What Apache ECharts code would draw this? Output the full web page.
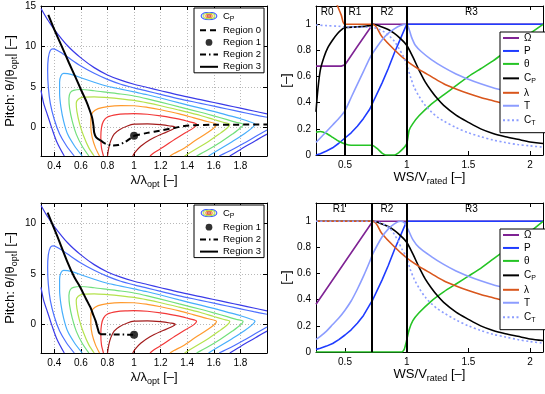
<!DOCTYPE html>
<html><head><meta charset="utf-8">
<script src="https://cdn.jsdelivr.net/npm/echarts/dist/echarts.min.js"></script>
<style>html,body{margin:0;padding:0;background:#fff}#c{width:545px;height:394px}</style>
</head><body><div id="c"></div><script>
// ---------- tick labels ----------
const lamTicks = [0.4, 0.6, 0.8, 1, 1.2, 1.4, 1.6, 1.8];
const pitchTicksTop = [0, 5, 10, 15];
const pitchTicksBottom = [0, 5, 10];
const wsTicks = [0.5, 1, 1.5, 2];
const normTicks = [0, 0.2, 0.4, 0.6, 0.8, 1];

// ---------- Cp contour lines (lambda/lambda_opt, pitch in top-panel units) ----------
const cpBlue1Upper = [[0.30,14.7],[0.35,13.3],[0.4,12.1],[0.5,10.1],[0.6,8.6],[0.7,7.4],[0.8,6.5],[0.9,5.85],[1.0,5.35],[1.1,4.95],[1.2,4.55],[1.34,4.0],[1.5,3.45],[1.6,3.1],[1.7,2.75],[1.8,2.4],[1.9,2.05],[2.0,1.7]];
const cpBlue1Left = [[0.30,4.6],[0.32,3.0],[0.35,1.5],[0.38,0],[0.42,-1.8],[0.475,-3.5]];
const cpBlue1Lower = [[2.0,-0.8],[1.93,-1.45],[1.84,-2.3],[1.77,-3.0],[1.72,-3.5]];
const cpBlue2 = [[0.55,-3.5],[0.49,-2.2],[0.44,-0.8],[0.40,1],[0.37,3],[0.355,5],[0.35,7],[0.355,8.6],[0.37,9.5],[0.39,9.7],[0.42,9.55],[0.46,9.15],[0.5,8.7],[0.6,7.6],[0.7,6.7],[0.8,5.95],[0.9,5.35],[1.0,4.9],[1.1,4.5],[1.2,4.1],[1.34,3.55],[1.5,3.0],[1.6,2.65],[1.7,2.3],[1.8,1.95],[1.9,1.6],[2.0,1.28]];
const cpBlue2Lower = [[2.0,-0.3],[1.93,-0.95],[1.83,-1.9],[1.73,-2.8],[1.64,-3.5]];
const cpLightBlue = [[0.61,-3.5],[0.55,-2.2],[0.5,-0.8],[0.47,0.8],[0.45,2.5],[0.44,4.2],[0.44,5.6],[0.45,6.4],[0.47,6.7],[0.5,6.65],[0.55,6.45],[0.6,6.15],[0.7,5.6],[0.8,5.1],[0.9,4.75],[1.0,4.4],[1.1,4.05],[1.2,3.65],[1.34,3.05],[1.5,2.4],[1.6,2.0],[1.7,1.55],[1.8,1.1],[1.87,0.72],[1.91,0.42],[1.89,0.0],[1.83,-0.75],[1.74,-1.7],[1.64,-2.7],[1.56,-3.5]];
const cpGreen = [[0.66,-3.5],[0.61,-2.3],[0.565,-0.8],[0.535,0.8],[0.515,2.4],[0.51,3.6],[0.52,4.3],[0.545,4.6],[0.6,4.7],[0.7,4.55],[0.8,4.35],[0.9,4.15],[1.0,3.9],[1.1,3.55],[1.2,3.15],[1.34,2.55],[1.5,1.9],[1.6,1.45],[1.7,0.98],[1.77,0.64],[1.82,0.4],[1.80,-0.05],[1.74,-0.8],[1.65,-1.8],[1.55,-2.8],[1.47,-3.5]];
const cpYellowGreen = [[0.70,-3.5],[0.66,-2.5],[0.62,-1],[0.59,0.5],[0.57,2],[0.565,3.0],[0.58,3.5],[0.62,3.75],[0.7,3.8],[0.8,3.7],[0.9,3.55],[1.0,3.35],[1.1,3.05],[1.2,2.7],[1.34,2.15],[1.5,1.5],[1.6,1.0],[1.67,0.66],[1.72,0.4],[1.70,-0.05],[1.64,-0.8],[1.56,-1.7],[1.46,-2.7],[1.38,-3.5]];
const cpOrange = [[0.74,-3.5],[0.71,-2.5],[0.685,-1.2],[0.675,0],[0.675,1.2],[0.69,1.9],[0.73,2.35],[0.8,2.6],[0.9,2.72],[1.0,2.7],[1.1,2.5],[1.2,2.2],[1.34,1.7],[1.45,1.2],[1.55,0.75],[1.62,0.4],[1.6,-0.05],[1.54,-0.75],[1.46,-1.6],[1.37,-2.6],[1.3,-3.2],[1.27,-3.5]];
const cpRed = [[0.77,-3.5],[0.755,-2.5],[0.75,-1.2],[0.755,0],[0.77,0.8],[0.8,1.3],[0.87,1.6],[0.95,1.7],[1.0,1.72],[1.1,1.65],[1.2,1.45],[1.34,1.05],[1.42,0.7],[1.47,0.42],[1.45,0.0],[1.39,-0.6],[1.31,-1.4],[1.22,-2.4],[1.15,-3.1],[1.12,-3.5]];
const cpMaroon = [[0.80,-3.5],[0.81,-2.5],[0.825,-1.6],[0.85,-0.8],[0.89,-0.25],[0.95,0.2],[1.0,0.42],[1.1,0.47],[1.2,0.36],[1.27,0.2],[1.31,0.05],[1.28,-0.3],[1.2,-0.85],[1.12,-1.5],[1.05,-2.3],[1.01,-3.0],[0.99,-3.5]];

// ---------- operating trajectories ----------
const topRegion0 = [[1.0,-1.0],[1.1,-0.65],[1.2,-0.35],[1.3,-0.05],[1.36,0.15],[1.45,0.3],[1.6,0.35],[2.0,0.38]];
const topRegion1 = [[1.0,-1.0]];
const topRegion2 = [[0.75,-1.6],[0.78,-1.95],[0.84,-2.2],[0.88,-2.15],[0.93,-1.8],[0.97,-1.35],[1.0,-1.0]];
const topRegion3 = [[0.355,13.9],[0.40,12.1],[0.457,10.0],[0.51,8.0],[0.56,6.2],[0.60,4.7],[0.638,3.35],[0.665,2.2],[0.685,1.2],[0.695,0.2],[0.70,-0.6],[0.715,-1.2],[0.75,-1.6]];
const botRegion1 = [[1.0,-1.0]];
const botRegion2 = [[0.745,-0.95],[0.76,-1.0],[1.0,-1.0]];
const botRegion3 = [[0.35,11.05],[0.42,8.8],[0.495,6.3],[0.55,4.7],[0.596,3.67],[0.64,2.5],[0.672,1.7],[0.695,0.9],[0.71,0.39],[0.725,-0.3],[0.735,-0.76],[0.745,-0.95]];

// ---------- normalised quantities vs WS/Vrated (top) ----------
const omegaTop = [[0.265,0.68],[0.47,0.68],[0.5,0.69],[0.6,0.83],[0.725,1.0],[2.105,1.0]];
const powerTop = [[0.265,0.0],[0.3,0.01],[0.35,0.03],[0.4,0.055],[0.45,0.09],[0.5,0.13],[0.55,0.17],[0.6,0.22],[0.65,0.28],[0.7,0.35],[0.725,0.40],[0.8,0.55],[0.85,0.66],[0.9,0.78],[0.95,0.89],[1.0,1.0],[2.105,1.0]];
const pitchTop = [[0.265,0.175],[0.3,0.18],[0.35,0.165],[0.4,0.135],[0.45,0.105],[0.5,0.085],[0.55,0.075],[0.72,0.075],[0.76,0.05],[0.8,0.015],[0.83,0.0],[0.9,0.0],[0.95,0.03],[1.0,0.085],[1.02,0.19],[1.05,0.24],[1.1,0.3],[1.2,0.39],[1.3,0.46],[1.4,0.53],[1.5,0.6],[1.6,0.66],[1.7,0.72],[1.8,0.79],[1.9,0.86],[2.0,0.93],[2.105,1.0]];
const cpTop = [[0.265,0.33],[0.28,0.5],[0.3,0.65],[0.33,0.75],[0.36,0.82],[0.4,0.88],[0.44,0.93],[0.48,0.965],[0.5,0.975],[0.6,0.98],[0.7,0.99],[0.725,1.0],[0.8,0.98],[0.85,0.96],[0.9,0.93],[0.95,0.89],[1.0,0.84],[1.05,0.75],[1.1,0.65],[1.15,0.56],[1.2,0.49],[1.25,0.43],[1.3,0.38],[1.4,0.305],[1.5,0.25],[1.6,0.2],[1.7,0.165],[1.8,0.14],[1.9,0.12],[2.0,0.1],[2.105,0.088]];
const lambdaTop = [[0.4,1.25],[0.44,1.14],[0.47,1.07],[0.5,1.0],[0.725,1.0],[0.8,0.905],[0.9,0.805],[1.0,0.72],[1.1,0.655],[1.2,0.6],[1.3,0.545],[1.4,0.505],[1.5,0.47],[1.6,0.44],[1.7,0.415],[1.8,0.39],[1.9,0.37],[2.0,0.355],[2.105,0.34]];
const thrustTop = [[0.265,0.097],[0.3,0.13],[0.35,0.18],[0.4,0.23],[0.45,0.28],[0.5,0.34],[0.55,0.44],[0.6,0.54],[0.65,0.64],[0.7,0.74],[0.725,0.78],[0.8,0.88],[0.85,0.93],[0.9,0.965],[0.95,0.99],[1.0,1.0],[1.02,0.96],[1.04,0.9],[1.07,0.84],[1.12,0.79],[1.2,0.73],[1.3,0.67],[1.4,0.62],[1.5,0.58],[1.6,0.545],[1.7,0.515],[1.8,0.49],[1.9,0.465],[2.0,0.44],[2.105,0.42]];
const ctTop = [[0.265,0.995],[0.35,0.99],[0.45,0.985],[0.5,0.98],[0.6,0.978],[0.725,0.975],[0.78,0.96],[0.82,0.94],[0.86,0.91],[0.9,0.87],[0.94,0.81],[0.97,0.76],[1.0,0.69],[1.03,0.6],[1.06,0.52],[1.1,0.45],[1.15,0.38],[1.2,0.33],[1.25,0.29],[1.3,0.26],[1.4,0.21],[1.5,0.17],[1.6,0.14],[1.7,0.115],[1.8,0.095],[1.9,0.08],[2.0,0.07],[2.105,0.06]];

// ---------- normalised quantities vs WS/Vrated (bottom) ----------
const omegaBot = [[0.265,0.365],[0.725,1.0],[2.105,1.0]];
const powerBot = [[0.265,0.02],[0.3,0.028],[0.35,0.045],[0.4,0.065],[0.45,0.095],[0.5,0.13],[0.55,0.17],[0.6,0.22],[0.65,0.28],[0.7,0.36],[0.725,0.40],[0.8,0.55],[0.85,0.66],[0.9,0.78],[0.95,0.89],[1.0,1.0],[2.105,1.0]];
const pitchBot = [[0.265,0],[0.96,0],[0.98,0.02],[1.0,0.09],[1.02,0.17],[1.05,0.24],[1.1,0.3],[1.2,0.39],[1.3,0.46],[1.4,0.52],[1.5,0.58],[1.6,0.64],[1.7,0.71],[1.8,0.78],[1.9,0.85],[2.0,0.92],[2.105,1.0]];
const cpBot = [[0.265,1.0],[0.725,1.0],[0.8,0.98],[0.85,0.96],[0.9,0.93],[0.95,0.89],[1.0,0.84],[1.05,0.75],[1.1,0.65],[1.15,0.56],[1.2,0.49],[1.25,0.43],[1.3,0.38],[1.4,0.305],[1.5,0.25],[1.6,0.2],[1.7,0.165],[1.8,0.14],[1.9,0.12],[2.0,0.1],[2.105,0.088]];
const lambdaBot = [[0.265,1.0],[0.725,1.0],[0.8,0.905],[0.9,0.805],[1.0,0.72],[1.1,0.655],[1.2,0.6],[1.3,0.545],[1.4,0.505],[1.5,0.47],[1.6,0.44],[1.7,0.415],[1.8,0.39],[1.9,0.37],[2.0,0.355],[2.105,0.34]];
const thrustBot = [[0.265,0.097],[0.3,0.12],[0.35,0.16],[0.4,0.21],[0.45,0.26],[0.5,0.32],[0.55,0.39],[0.6,0.48],[0.65,0.58],[0.7,0.69],[0.725,0.75],[0.8,0.88],[0.85,0.94],[0.9,0.98],[0.95,1.0],[0.98,0.99],[1.0,0.96],[1.02,0.92],[1.05,0.86],[1.1,0.8],[1.2,0.73],[1.3,0.67],[1.4,0.62],[1.5,0.58],[1.6,0.545],[1.7,0.515],[1.8,0.49],[1.9,0.465],[2.0,0.44],[2.105,0.42]];
const ctBot = [[0.265,1.0],[0.725,1.0],[0.78,0.99],[0.83,0.97],[0.87,0.94],[0.9,0.9],[0.93,0.85],[0.96,0.79],[1.0,0.72],[1.03,0.63],[1.06,0.56],[1.1,0.49],[1.15,0.42],[1.2,0.37],[1.25,0.33],[1.3,0.3],[1.4,0.245],[1.5,0.2],[1.6,0.165],[1.7,0.135],[1.8,0.115],[1.9,0.095],[2.0,0.08],[2.105,0.067]];

// ---------- region boundaries and labels ----------
const boundsTop = [0.5, 0.725, 1.0];
const boundsBot = [0.725, 1.0];
const regionNamesTop = ['R0', 'R1', 'R2', 'R3'];
const regionXTop = [0.355, 0.58, 0.84, 1.525];
const regionNamesBot = ['R1', 'R2', 'R3'];
const regionXBot = [0.452, 0.84, 1.525];
const regionLabelY = 1.09;

// =============== build chart ===============
const FONT = '"Liberation Sans", Arial, Helvetica, sans-serif';
const chart = echarts.init(document.getElementById('c'), null, {renderer: 'canvas', width: 545, height: 394});

const grids = [
  {left: 41, top: 6, width: 226, height: 150},
  {left: 316, top: 6, width: 227, height: 149},
  {left: 41, top: 203, width: 226, height: 150},
  {left: 316, top: 203, width: 227, height: 149}
];

function axis(gridIndex, position, min, max, ticks, labels, grid, extra) {
  const a = {
    type: 'value', gridIndex, position, min, max,
    axisLine: {show: true, onZero: false, lineStyle: {color: '#000', width: 1}},
    axisTick: {show: true, inside: true, length: 4, customValues: ticks, lineStyle: {color: '#000', width: 1}},
    axisLabel: {show: labels, customValues: ticks, color: '#000', fontSize: 10, fontFamily: FONT, margin: 5},
    splitLine: grid ? {show: true, lineStyle: {color: '#b8b8b8', type: [1, 2], width: 1}} : {show: false}
  };
  return Object.assign(a, extra || {});
}
const nameRich = {
  a: {fontSize: 13, fontFamily: FONT, color: '#000'},
  s: {fontSize: 9, fontFamily: FONT, color: '#000', padding: [9, 0, 0, 0]}
};
const lamName = {name: '{a|λ/λ}{s|opt}{a| [–]}', nameLocation: 'middle', nameGap: 15, nameTextStyle: {rich: nameRich}};
const pitchName = {name: '{a|Pitch: θ/|θ}{s|opt}{a|| [–]}', nameLocation: 'middle', nameGap: 22, nameRotate: 90, nameTextStyle: {rich: nameRich}};
const wsName = {name: '{a|WS/V}{s|rated}{a| [–]}', nameLocation: 'middle', nameGap: 13, nameTextStyle: {rich: nameRich}};
const normName = {name: '{a|[–]}', nameLocation: 'middle', nameGap: 22, nameRotate: 90, nameTextStyle: {rich: nameRich}};

const xAxes = [
  axis(0, 'bottom', 0.3, 2.0, lamTicks, true, true, lamName),
  axis(0, 'top', 0.3, 2.0, lamTicks, false, false),
  axis(1, 'bottom', 0.265, 2.105, wsTicks, true, false, wsName),
  axis(1, 'top', 0.265, 2.105, wsTicks, false, false),
  axis(2, 'bottom', 0.3, 2.0, lamTicks, true, true, lamName),
  axis(2, 'top', 0.3, 2.0, lamTicks, false, false),
  axis(3, 'bottom', 0.265, 2.105, wsTicks, true, false, wsName),
  axis(3, 'top', 0.265, 2.105, wsTicks, false, false)
];
const yAxes = [
  axis(0, 'left', -3.5, 15, pitchTicksTop, true, true, pitchName),
  axis(0, 'right', -3.5, 15, pitchTicksTop, false, false),
  axis(1, 'left', 0, 1.14, normTicks, true, false, normName),
  axis(1, 'right', 0, 1.14, normTicks, false, false),
  axis(2, 'left', -2.8, 12, pitchTicksBottom, true, true, pitchName),
  axis(2, 'right', -2.8, 12, pitchTicksBottom, false, false),
  axis(3, 'left', 0, 1.14, normTicks, true, false, normName),
  axis(3, 'right', 0, 1.14, normTicks, false, false),
  // hidden axis carrying the Cp contours of the lower-left panel (same pitch in top-panel units)
  {type: 'value', gridIndex: 2, min: -3.5, max: 15, show: false}
];

const series = [];
function line(xi, yi, data, color, width, type, name, smooth, z) {
  const s = {type: 'line', xAxisIndex: xi, yAxisIndex: yi, data, symbol: 'none', showSymbol: false,
    smooth: smooth || 0, lineStyle: {color, width, type: type || 'solid'},
    // transparent item style so the legend draws a plain line (no marker)
    itemStyle: {color, opacity: name === 'Cp' ? 1 : 0},
    z: z || 2, silent: true, animation: false, clip: true};
  if (name) s.name = name;
  series.push(s);
}

const contourColors = {blue1: '#3b3be8', blue2: '#4d70ff', lightBlue: '#46aefc', green: '#72e07c',
  yellowGreen: '#b4e24c', orange: '#ff9a2e', red: '#f23838', maroon: '#a31c1c'};
const contours = [[cpBlue1Upper, 'blue1'], [cpBlue1Left, 'blue1'], [cpBlue1Lower, 'blue1'], [cpBlue2, 'blue2'],
  [cpBlue2Lower, 'blue2'], [cpLightBlue, 'lightBlue'], [cpGreen, 'green'], [cpYellowGreen, 'yellowGreen'],
  [cpOrange, 'orange'], [cpRed, 'red'], [cpMaroon, 'maroon']];

// top-left panel
contours.forEach(([d, c]) => line(0, 0, d, contourColors[c], 1.2, 'solid', c === 'maroon' ? 'Cp' : null, 0.3, 2));
line(0, 0, topRegion0, '#000', 2, [6, 4], 'Region 0', 0.3, 5);
line(0, 0, topRegion2, '#000', 2, [6, 3, 1.5, 3], 'Region 2', 0.3, 5);
line(0, 0, topRegion3, '#000', 2, 'solid', 'Region 3', 0.2, 5);
series.push({type: 'scatter', name: 'Region 1', xAxisIndex: 0, yAxisIndex: 0, data: topRegion1, symbol: 'circle', symbolSize: 8, itemStyle: {color: '#000'}, z: 6, silent: true, animation: false});

// bottom-left panel
contours.forEach(([d, c]) => line(4, 8, d, contourColors[c], 1.2, 'solid', null, 0.3, 2));
line(4, 4, botRegion2, '#000', 2, [6, 3, 1.5, 3], 'Region 2', 0, 5);
line(4, 4, botRegion3, '#000', 2, 'solid', 'Region 3', 0.2, 5);
series.push({type: 'scatter', name: 'Region 1', xAxisIndex: 4, yAxisIndex: 4, data: botRegion1, symbol: 'circle', symbolSize: 8, itemStyle: {color: '#000'}, z: 6, silent: true, animation: false});

// right panels
const qColors = {omega: '#7f2394', power: '#1f3cff', pitch: '#25c425', cp: '#000000', lambda: '#d9561c', thrust: '#8c9dff', ct: '#8c9dff'};
function rightPanel(xi, yi, d, bounds, names, xs) {
  line(xi, yi, d.omega, qColors.omega, 1.6, 'solid', 'Ω', 0, 3);
  line(xi, yi, d.power, qColors.power, 1.6, 'solid', 'P', 0, 3);
  line(xi, yi, d.pitch, qColors.pitch, 1.6, 'solid', 'θ', 0.2, 3);
  line(xi, yi, d.cp, qColors.cp, 1.6, 'solid', 'CP', 0.3, 3);
  line(xi, yi, d.lambda, qColors.lambda, 1.6, 'solid', 'λ', 0.3, 3);
  line(xi, yi, d.thrust, qColors.thrust, 1.6, 'solid', 'T', 0.3, 3);
  line(xi, yi, d.ct, qColors.ct, 1.6, [2, 2.5], 'CT', 0.3, 3);
  series.push({type: 'line', xAxisIndex: xi, yAxisIndex: yi, data: [], silent: true, animation: false, z: 4,
    markLine: {symbol: 'none', silent: true, animation: false, label: {show: false},
      lineStyle: {color: '#000', width: 2, type: 'solid'}, data: bounds.map(v => ({xAxis: v}))}});
  series.push({type: 'scatter', xAxisIndex: xi, yAxisIndex: yi, symbolSize: 1, itemStyle: {color: 'rgba(0,0,0,0)'},
    silent: true, animation: false, z: 6,
    data: names.map((n, i) => [xs[i], regionLabelY, n]),
    label: {show: true, position: 'inside', formatter: p => p.value[2], color: '#000', opacity: 1, fontSize: 10, fontFamily: FONT}});
}
rightPanel(2, 2, {omega: omegaTop, power: powerTop, pitch: pitchTop, cp: cpTop, lambda: lambdaTop, thrust: thrustTop, ct: ctTop}, boundsTop, regionNamesTop, regionXTop);
rightPanel(6, 6, {omega: omegaBot, power: powerBot, pitch: pitchBot, cp: cpBot, lambda: lambdaBot, thrust: thrustBot, ct: ctBot}, boundsBot, regionNamesBot, regionXBot);

// legend icons
function svgIcon(body) {
  return 'image://data:image/svg+xml;charset=utf-8,' + encodeURIComponent(
    '<svg xmlns="http://www.w3.org/2000/svg" width="40" height="20" viewBox="0 0 40 20">' + body + '</svg>');
}
const cpIcon = svgIcon(
  '<ellipse cx="20" cy="10" rx="17.5" ry="8.3" fill="none" stroke="#3f5cff" stroke-width="2.4"/>' +
  '<ellipse cx="20" cy="10" rx="13.2" ry="6" fill="none" stroke="#a6e04c" stroke-width="2.4"/>' +
  '<ellipse cx="20" cy="10" rx="9.3" ry="4" fill="none" stroke="#ff9a2e" stroke-width="2.2"/>' +
  '<ellipse cx="20" cy="10" rx="5.5" ry="2.2" fill="none" stroke="#b21e1e" stroke-width="2"/>');
const dotIcon = svgIcon('<circle cx="20" cy="10" r="7.5" fill="#000"/>');

const legendLabel = {Cp: '{t|C}{s|P}', CP: '{t|C}{s|P}', CT: '{t|C}{s|T}'};
function legendFmt(n) { return legendLabel[n] || '{t|' + n + '}'; }
function leftLegend(top, items) {
  return {left: 194, top, orient: 'vertical', selectedMode: false, itemWidth: 18, itemHeight: 9, itemGap: 2.2,
    padding: [1, 3, 1, 5], borderColor: '#000', borderWidth: 1, backgroundColor: '#fff',
    data: items, formatter: legendFmt,
    textStyle: {fontFamily: FONT, fontSize: 9.5, color: '#000', lineHeight: 10,
      rich: {t: {fontSize: 9.5, fontFamily: FONT, lineHeight: 10}, s: {fontSize: 7, fontFamily: FONT, lineHeight: 14, padding: [6, 0, 0, 0]}}}};
}
function rightLegend(top) {
  return {left: 500, top, orient: 'vertical', selectedMode: false, itemWidth: 16, itemHeight: 8, itemGap: 2.95,
    padding: [1, 11, 6, 2], borderColor: '#000', borderWidth: 1, backgroundColor: '#fff',
    data: ['Ω', 'P', 'θ', 'CP', 'λ', 'T', 'CT'], formatter: legendFmt,
    textStyle: {fontFamily: FONT, fontSize: 10, color: '#000', lineHeight: 10,
      rich: {t: {fontSize: 10, fontFamily: FONT, lineHeight: 10}, s: {fontSize: 7, fontFamily: FONT, lineHeight: 10, padding: [6, 0, 0, 0]}}}};
}

chart.setOption({
  animation: false,
  backgroundColor: '#fff',
  textStyle: {fontFamily: FONT},
  grid: grids,
  xAxis: xAxes,
  yAxis: yAxes,
  legend: [
    leftLegend(8, [{name: 'Cp', icon: cpIcon}, 'Region 0', {name: 'Region 1', icon: dotIcon}, 'Region 2', 'Region 3']),
    leftLegend(205, [{name: 'Cp', icon: cpIcon}, {name: 'Region 1', icon: dotIcon}, 'Region 2', 'Region 3']),
    rightLegend(32),
    rightLegend(229)
  ],
  series
});
</script></body></html>
